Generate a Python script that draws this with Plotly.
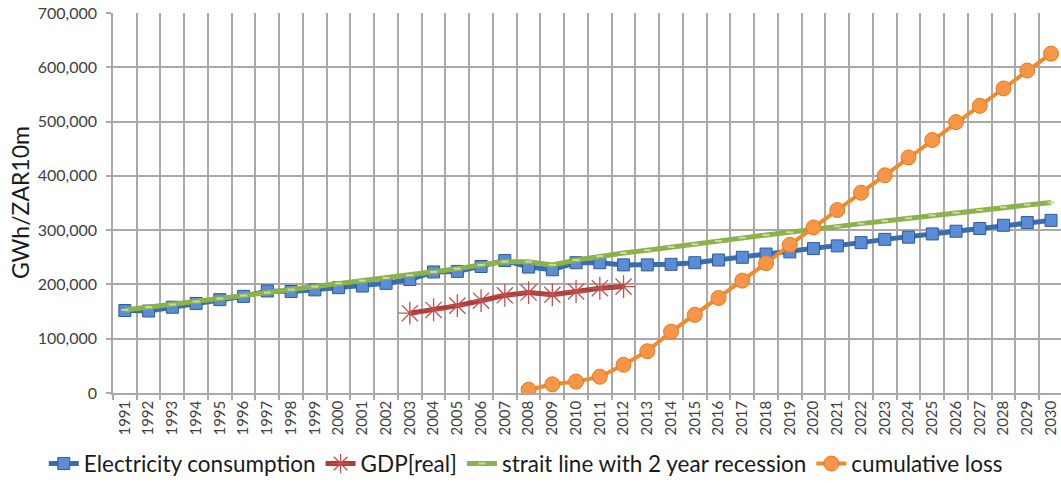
import plotly.graph_objects as go

years = [str(y) for y in range(1991, 2031)]

electricity = [152000, 151000, 158000, 165000, 172000, 178000, 188000, 187000, 190000, 194000,
               197000, 202000, 209000, 223000, 224000, 233000, 244000, 232000, 227000, 240000,
               240000, 236000, 236000, 237000, 240000, 245000, 250000, 256000, 260000, 266000,
               271000, 277000, 283000, 287000, 293000, 298000, 303000, 309000, 314000, 318000]

gdp_years = [str(y) for y in range(2003, 2013)]
gdp_real = [147000, 153000, 161000, 170000, 180000, 185000, 181000, 187000, 193000, 196000]

strait_line = [153000, 158000, 163000, 168500, 174000, 179500, 185000, 190500, 196000, 202000,
               207000, 212000, 217000, 223000, 229000, 236000, 242000, 242000, 236000, 245000,
               252000, 258000, 263000, 269000, 274000, 280000, 286000, 291000, 296000, 302000,
               307000, 312000, 317000, 322000, 327000, 332000, 337000, 342000, 347000, 351000]

loss_years = [str(y) for y in range(2008, 2031)]
cumulative_loss = [6000, 16000, 21000, 30000, 52000, 77000, 113000, 144000, 175000, 207000,
                   239000, 273000, 305000, 337000, 369000, 401000, 434000, 466000, 499000,
                   529000, 561000, 594000, 625000]

FONT = "Lato, 'Open Sans', Arial, sans-serif"
GRID = "#A9A9A9"

fig = go.Figure()
fig.add_trace(go.Scatter(
    x=years, y=electricity, name="Electricity consumption", mode="lines+markers",
    line=dict(color="#3A6CB0", width=5),
    marker=dict(symbol="square", size=12, color="#5A8DD6",
                line=dict(color="#2E5C9A", width=1)),
))
fig.add_trace(go.Scatter(
    x=gdp_years, y=gdp_real, name="GDP[real]", mode="lines+markers",
    line=dict(color="#B03C3A", width=5),
    marker=dict(symbol="asterisk-open", size=19, color="#C0504D",
                line=dict(color="#C0504D", width=1.3)),
))
fig.add_trace(go.Scatter(
    x=years, y=strait_line, name="strait line with 2 year recession", mode="lines+markers",
    line=dict(color="#8CB24A", width=5),
    marker=dict(symbol="line-ew-open", size=5, color="#C8DCA0",
                line=dict(color="#C8DCA0", width=2)),
))
fig.add_trace(go.Scatter(
    x=loss_years, y=cumulative_loss, name="cumulative loss", mode="lines+markers",
    line=dict(color="#F08A2C", width=4),
    marker=dict(symbol="circle", size=15, color="#F79646",
                line=dict(color="#E37A1F", width=1)),
))

fig.update_layout(
    width=1061, height=489,
    margin=dict(l=113, r=0, t=13, b=96),
    paper_bgcolor="white", plot_bgcolor="white",
    font=dict(family=FONT, color="#404040"),
    showlegend=True,
    legend=dict(orientation="h", x=-0.073, xanchor="left", y=-0.130, yanchor="top",
                font=dict(family=FONT, size=22.5, color="#1a1a1a"),
                itemwidth=30, bgcolor="rgba(0,0,0,0)"),
    annotations=[dict(text="GWh/ZAR10m", xref="paper", yref="paper",
                      x=-0.098, y=0.5, xanchor="center", yanchor="middle",
                      textangle=-90, showarrow=False,
                      font=dict(family=FONT, size=23, color="#1a1a1a"))],
)
fig.update_xaxes(
    type="category", categoryorder="array", categoryarray=years,
    range=[-0.5, 39.42], tickson="boundaries",
    showgrid=True, gridcolor=GRID, gridwidth=1.5,
    showline=True, linecolor=GRID, linewidth=1.5,
    ticks="outside", ticklen=5, tickcolor=GRID, tickwidth=1.5,
    tickangle=-90, tickfont=dict(family=FONT, size=15, color="#404040"),
    automargin=False,
)
fig.update_yaxes(
    range=[0, 700000], dtick=100000, tickformat=",",
    showgrid=True, gridcolor=GRID, gridwidth=1.5,
    showline=True, linecolor=GRID, linewidth=1.5,
    ticks="outside", ticklen=5, tickcolor=GRID, tickwidth=1.5,
    ticklabelstandoff=6,
    tickfont=dict(family=FONT, size=16, color="#404040"),
    automargin=False, zeroline=False,
)

fig.write_html("out.html", config={"displayModeBar": False},
               post_script="document.body.style.margin='0';document.body.style.padding='0';")
